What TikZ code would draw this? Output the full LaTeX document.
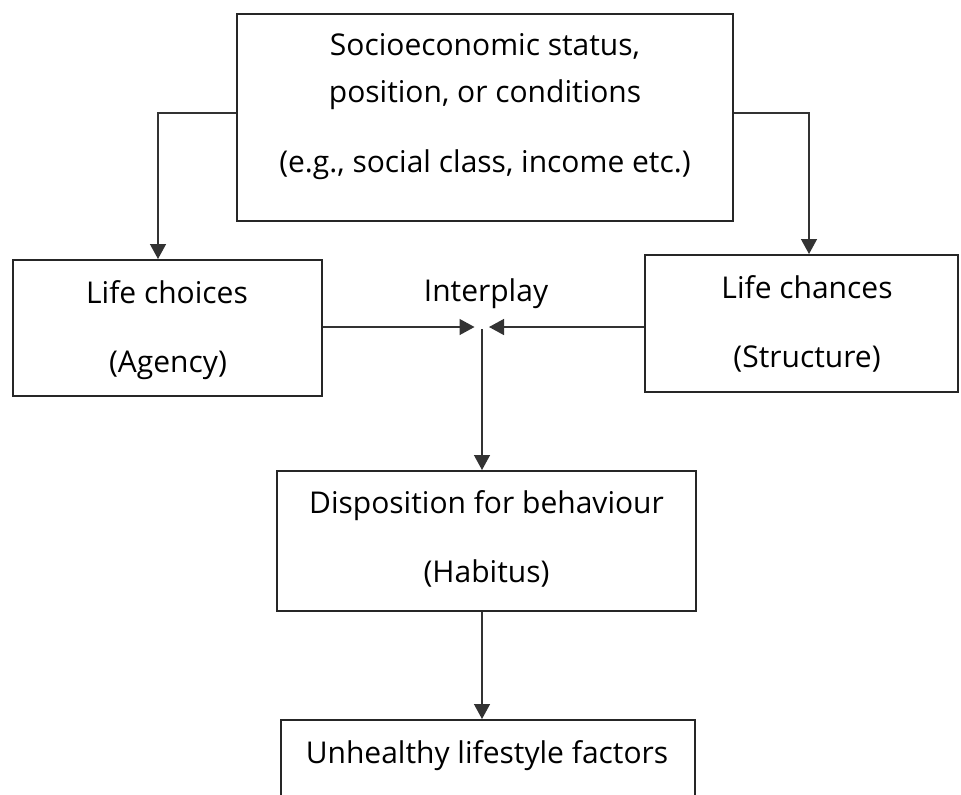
\documentclass[tikz,border=0pt]{standalone}
\usepackage{fontspec}
\setmainfont[Ligatures={NoCommon}]{Open Sans}
\usetikzlibrary{arrows.meta, positioning}
\tikzset{
    box/.style={rectangle, draw=black!85, line width=1pt, inner sep=0pt}, % the frames
    txt/.style={anchor=base, inner sep=0pt, font=\fontsize{15}{17}\selectfont}, % one line of text
}
\tikzstyle{arrow} = [line width=0.7pt, draw=black!80, -{Triangle[length=7.5pt, width=8pt]}]

\begin{document}
\begin{tikzpicture}[x=0.5pt, y=-0.5pt]
    \clip (0,0) rectangle (961,794);

    % Boxes
    \node[box, minimum width=248pt, minimum height=103.5pt] (ses) at (485,117.5) {};
    \node[box, minimum width=154.5pt, minimum height=68pt] (choices) at (167.5,328) {};
    \node[box, minimum width=156.5pt, minimum height=68.5pt] (chances) at (801.5,323.5) {};
    \node[box, minimum width=209.5pt, minimum height=70pt] (habitus) at (486.5,541) {};
    \node[box, minimum width=207pt, minimum height=100pt] (lifestyle) at (488,820) {};

    % Text
    \node[txt] (ses1) at (485,55) {Socioeconomic status,};
    \node[txt] (ses2) at (485,102) {position, or conditions};
    \node[txt] (ses3) at (485,172) {(e.g., social class, income etc.)};
    \node[txt] (choices1) at (167,303) {Life choices};
    \node[txt] (choices2) at (168,372) {(Agency)};
    \node[txt] (chances1) at (807,298) {Life chances};
    \node[txt] (chances2) at (807,367) {(Structure)};
    \node[txt] (interplay) at (486,301) {Interplay};
    \node[txt] (habitus1) at (486.5,513) {Disposition for behaviour};
    \node[txt] (habitus2) at (486.5,582) {(Habitus)};
    \node[txt] (lifestyle1) at (487,763) {Unhealthy lifestyle factors};

    % Arrows
    \coordinate (meet) at (482,327);
    \draw[arrow] (ses.west |- 0,113) -| ([xshift=-4.75pt]choices.north);
    \draw[arrow] (ses.east |- 0,113) -| ([xshift=3.75pt]chances.north);
    \draw[arrow] (choices.east |- meet) -- ([xshift=-3.75pt]meet);
    \draw[arrow] (chances.west |- meet) -- ([xshift=3.5pt]meet);
    \draw[arrow] ([yshift=-1pt]meet) -- (meet |- habitus.north);
    \draw[arrow] (habitus.south -| meet) -- (lifestyle.north -| meet);
\end{tikzpicture}
\end{document}
